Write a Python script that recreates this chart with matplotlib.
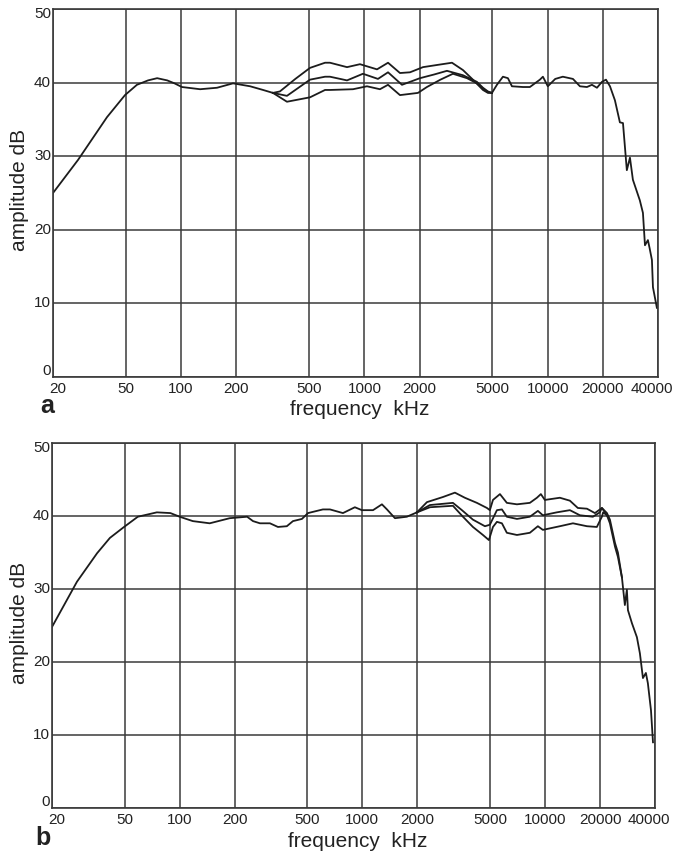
import matplotlib
matplotlib.use('Agg')
import matplotlib.pyplot as plt
import matplotlib.transforms as mtransforms

plt.rcParams['font.family'] = ['Liberation Sans', 'DejaVu Sans']

# ------------------------------ AXIS SETUP ---------------------------------

xticks = [20, 50, 100, 200, 500, 1000, 2000, 5000, 10000, 20000, 40000]
xlabels = ['20', '50', '100', '200', '500', '1000', '2000', '5000', '10000', '20000', '40000']
yticks = [0, 10, 20, 30, 40, 50]

# ------------------------------ PANEL a DATA -------------------------------

# common part, low end
fa_low = [20, 27.4, 39.4, 49.4, 57.4, 66, 74, 84, 92, 101, 127, 157, 192, 238, 280, 317]
da_low = [25.0, 29.5, 35.3, 38.3, 39.7, 40.3, 40.6, 40.3, 39.9, 39.4, 39.1, 39.3, 39.9, 39.5, 39.0, 38.6]

# three curves in the mid band
fa_top = [317, 346, 420, 505, 610, 649, 804, 946, 1172, 1346, 1564, 1774, 2088, 2500, 3006, 3452, 3910, 4436, 4722, 4966]
da_top = [38.6, 38.8, 40.5, 42.0, 42.7, 42.7, 42.1, 42.5, 41.8, 42.7, 41.3, 41.4, 42.1, 42.4, 42.7, 41.7, 40.4, 39.0, 38.6, 38.6]

fa_mid = [317, 378, 505, 610, 649, 804, 982, 1186, 1346, 1604, 2010, 2400, 2822, 3452, 4112, 4436, 4722, 4966]
da_mid = [38.6, 38.2, 40.4, 40.8, 40.8, 40.3, 41.2, 40.5, 41.4, 39.7, 40.6, 41.1, 41.6, 41.0, 40.1, 39.3, 38.8, 38.6]

fa_bot = [317, 378, 505, 610, 649, 867, 1033, 1216, 1346, 1564, 1960, 2194, 2600, 3042, 3630, 4112, 4436, 4722, 4966]
da_bot = [38.6, 37.4, 38.0, 39.0, 39.0, 39.1, 39.5, 39.1, 39.7, 38.3, 38.6, 39.4, 40.4, 41.2, 40.6, 39.9, 39.2, 38.7, 38.6]

# common part, high end
fa_high = [4966, 5286, 5702, 6070, 6384, 7328, 8000, 9072, 9420, 10020, 11000, 12100, 13740, 15000,
           16380, 17440, 18580, 19780, 20800, 21880, 23280, 24780, 25760, 27040, 28120, 29180,
           31840, 33100, 33960, 35240, 36000, 37060, 37540, 39440]
da_high = [38.6, 39.7, 40.8, 40.6, 39.5, 39.4, 39.4, 40.4, 40.8, 39.5, 40.5, 40.8, 40.5, 39.5,
           39.4, 39.7, 39.3, 40.1, 40.4, 39.5, 37.6, 34.6, 34.5, 28.1, 29.8, 26.8,
           24.0, 22.3, 17.9, 18.6, 17.5, 15.9, 12.2, 9.4]

# ------------------------------ PANEL b DATA -------------------------------

fb_low = [20, 27.4, 35.3, 41.5, 49, 59, 75, 89, 100, 118, 146, 188, 234, 252, 275, 312, 345, 386,
          417, 467, 504, 608, 665, 783, 910, 994, 1144, 1280, 1364, 1508, 1752, 1990]
db_low = [24.8, 31.0, 34.9, 37.0, 38.4, 39.9, 40.5, 40.4, 39.9, 39.3, 39.0, 39.7, 39.9, 39.3, 39.0,
          39.0, 38.5, 38.6, 39.3, 39.6, 40.4, 40.9, 40.9, 40.4, 41.2, 40.8, 40.8, 41.6, 40.9, 39.7,
          39.9, 40.5]

fb_top = [1990, 2258, 2761, 3212, 3640, 4236, 4808, 4990, 5188, 5666, 6180, 7020, 8260, 9030, 9490,
          9980, 12060, 13680, 15120, 16960, 18760, 20480, 21820, 22660, 24160, 25060, 26360]
db_top = [40.5, 41.9, 42.6, 43.2, 42.5, 41.8, 41.1, 40.8, 42.2, 43.0, 41.8, 41.6, 41.8, 42.5, 43.0,
          42.2, 42.5, 42.1, 41.1, 41.0, 40.4, 41.1, 40.4, 39.5, 36.3, 35.0, 31.6]

fb_mid = [1990, 2344, 3132, 3508, 4030, 4688, 4990, 5454, 5808, 6180, 7020, 8260, 9140, 9730,
          11600, 13680, 15520, 18280, 19960, 20480, 21820]
db_mid = [40.5, 41.5, 41.8, 40.8, 39.5, 38.6, 38.8, 40.8, 40.9, 39.9, 39.6, 39.9, 40.7, 40.1,
          40.5, 40.8, 40.1, 39.9, 40.5, 41.1, 40.1]

fb_bot = [1990, 2344, 3132, 3554, 4030, 4572, 4930, 5188, 5454, 5808, 6180, 7020, 8260, 9140, 9730,
          12060, 14220, 16960, 19220, 20480, 20800, 21820]
db_bot = [40.5, 41.2, 41.4, 39.9, 38.5, 37.4, 36.7, 38.5, 39.2, 39.0, 37.7, 37.4, 37.7, 38.6, 38.1,
          38.6, 39.0, 38.6, 38.5, 39.9, 40.5, 40.1]

fb_high = [21820, 22660, 24160, 25060, 26360, 27360, 28060, 28440, 29920, 31840, 33060, 34360,
           35660, 36560, 38020, 39000]
db_high = [40.1, 39.0, 35.8, 34.4, 31.6, 27.8, 29.9, 27.1, 25.3, 23.4, 21.2, 17.8,
           18.5, 17.1, 13.4, 9.0]

# ------------------------------- PLOTTING ----------------------------------

W, H = 676.0, 851.0
ink = '#1c1c1c'
gridc = '#3a3a3a'

fig = plt.figure(figsize=(W / 100, H / 100), dpi=100)
fig.patch.set_facecolor('white')

ax_a = fig.add_axes([53 / W, 1 - 377 / H, 605 / W, 368 / H])
ax_b = fig.add_axes([52 / W, 1 - 808 / H, 603 / W, 365 / H])


def px(dx, dy):
    return mtransforms.ScaledTranslation(dx / 100.0, dy / 100.0, fig.dpi_scale_trans)


def setup(ax):
    ax.set_xscale('log')
    ax.set_xlim(20, 40000)
    ax.set_ylim(0, 50)
    ax.set_xticks(xticks)
    ax.set_yticks(yticks)
    ax.minorticks_off()
    ax.set_xticklabels([])
    ax.set_yticklabels([])
    ax.tick_params(length=0)
    ax.grid(True, color=gridc, lw=1.1)
    ax.set_axisbelow(True)
    for s in ax.spines.values():
        s.set_color(gridc)
        s.set_linewidth(1.2)
    for v, s in zip(xticks, xlabels):
        dx = 0
        if v == xticks[0]:
            dx = 5
        if v == xticks[-1]:
            dx = -6
        ax.text(v, 0, s, transform=ax.get_xaxis_transform() + px(dx, -5),
                ha='center', va='top', fontsize=11, color='#222222')
    for v in yticks:
        dy = 0
        if v == yticks[0]:
            dy = 6
        if v == yticks[-1]:
            dy = -5
        ax.text(0, v, str(v), transform=ax.get_yaxis_transform() + px(-2, dy),
                ha='right', va='center', fontsize=11, color='#222222')


setup(ax_a)
setup(ax_b)

for f, d in [(fa_low, da_low), (fa_top, da_top), (fa_mid, da_mid), (fa_bot, da_bot), (fa_high, da_high)]:
    ax_a.plot(f, d, color=ink, lw=1.3, solid_joinstyle='round')

for f, d in [(fb_low, db_low), (fb_top, db_top), (fb_mid, db_mid), (fb_bot, db_bot), (fb_high, db_high)]:
    ax_b.plot(f, d, color=ink, lw=1.3, solid_joinstyle='round')

# axis titles and panel letters
fig.text(20 / W, 1 - 190 / H, 'amplitude dB', rotation=90, ha='center', va='center',
         fontsize=15, color='#222222')
fig.text(20 / W, 1 - 623 / H, 'amplitude dB', rotation=90, ha='center', va='center',
         fontsize=15, color='#222222')
fig.text(360 / W, 1 - 415 / H, 'frequency  kHz', ha='center', va='baseline',
         fontsize=15, color='#222222')
fig.text(358 / W, 1 - 847 / H, 'frequency  kHz', ha='center', va='baseline',
         fontsize=15, color='#222222')
fig.text(40 / W, 1 - 413 / H, 'a', ha='left', va='baseline', fontsize=18,
         fontweight='bold', color='#222222')
fig.text(35 / W, 1 - 845 / H, 'b', ha='left', va='baseline', fontsize=18,
         fontweight='bold', color='#222222')

fig.savefig('out.png', dpi=100, facecolor='white')
